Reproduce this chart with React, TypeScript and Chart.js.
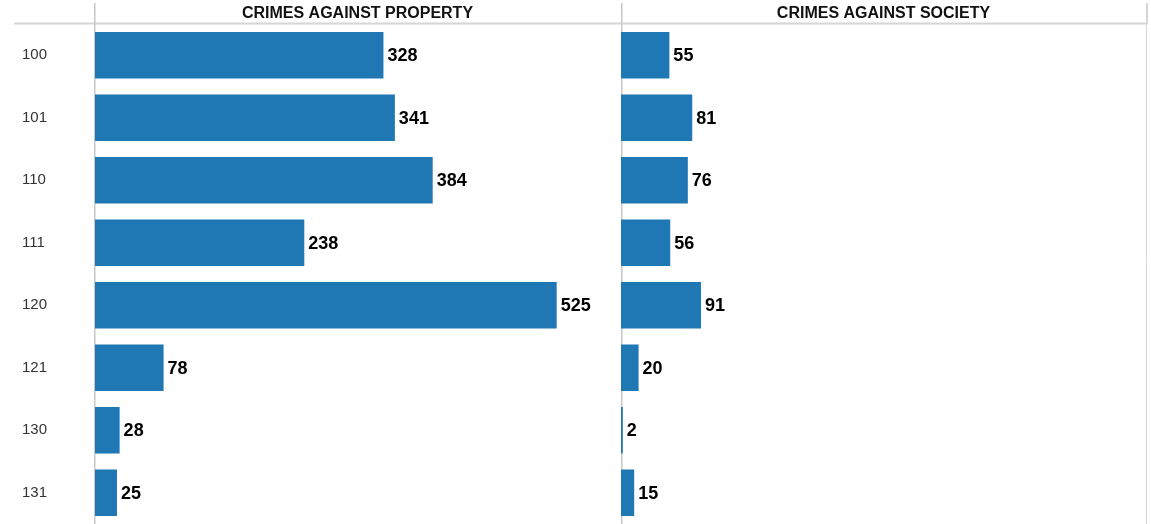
import React, { useEffect, useRef } from "react";
import { Chart, registerables } from "chart.js";

Chart.register(...registerables);

const categories = ["100", "101", "110", "111", "120", "121", "130", "131"];
const propertyValues = [328, 341, 384, 238, 525, 78, 28, 25];
const societyValues = [55, 81, 76, 56, 91, 20, 2, 15];
const panelTitles = ["CRIMES AGAINST PROPERTY", "CRIMES AGAINST SOCIETY"];

const FONT = "'Liberation Sans', Arial, Helvetica, sans-serif";
const BAR_COLOR = "#1f77b4";
const X_MAX = 597;

function makePlugin(title: string, isLeft: boolean) {
  return {
    id: "decor" + (isLeft ? "L" : "R"),
    beforeDatasetsDraw(chart: any) {
      const { ctx, chartArea } = chart;
      const W = chart.width;
      ctx.save();
      // header line
      ctx.strokeStyle = "#d6d6d6";
      ctx.lineWidth = 2;
      ctx.beginPath();
      ctx.moveTo(isLeft ? 14 : 0, 23.5);
      ctx.lineTo(isLeft ? W : chartArea.right + 1, 23.5);
      ctx.stroke();
      // left axis line of panel
      const lx = isLeft ? chartArea.left - 0.25 : 0.75;
      ctx.strokeStyle = "#c8c8c8";
      ctx.lineWidth = 1.5;
      ctx.beginPath();
      ctx.moveTo(lx, 3);
      ctx.lineTo(lx, chart.height);
      ctx.stroke();
      if (!isLeft) {
        ctx.strokeStyle = "#d6d6d6";
        ctx.lineWidth = 1;
        ctx.beginPath();
        ctx.moveTo(chartArea.right + 0.5, 3);
        ctx.lineTo(chartArea.right + 0.5, chart.height);
        ctx.stroke();
        ctx.lineWidth = 2;
        ctx.beginPath();
        ctx.moveTo(chartArea.right + 1, 3);
        ctx.lineTo(chartArea.right + 1, 24);
        ctx.stroke();
      }
      // header title
      ctx.fillStyle = "#111111";
      ctx.font = `bold 16px ${FONT}`;
      ctx.textAlign = "center";
      ctx.textBaseline = "middle";
      ctx.fillText(title, (chartArea.left + chartArea.right) / 2, 13.5);
      ctx.restore();
    },
    afterDatasetsDraw(chart: any) {
      const { ctx } = chart;
      const meta = chart.getDatasetMeta(0);
      const data = chart.data.datasets[0].data as number[];
      ctx.save();
      ctx.fillStyle = "#000000";
      ctx.font = `bold 18px ${FONT}`;
      ctx.textAlign = "left";
      ctx.textBaseline = "middle";
      meta.data.forEach((el: any, i: number) => {
        ctx.fillText(String(data[i]), el.x + 4, el.y + 1);
      });
      ctx.restore();
    },
  };
}

function Panel({ values, title, isLeft, width }: { values: number[]; title: string; isLeft: boolean; width: number }) {
  const ref = useRef<HTMLCanvasElement>(null);
  useEffect(() => {
    if (!ref.current) return;
    const chart = new Chart(ref.current, {
      type: "bar",
      data: {
        labels: categories,
        datasets: [
          {
            data: values,
            backgroundColor: BAR_COLOR,
            borderWidth: 0,
            categoryPercentage: 1,
            barPercentage: 0.744,
          },
        ],
      },
      options: {
        indexAxis: "y",
        responsive: false,
        maintainAspectRatio: false,
        animation: false,
        layout: {
          padding: isLeft
            ? { left: 22, right: 1, top: 24, bottom: 0 }
            : { left: 0, right: width - 525, top: 24, bottom: 0 },
        },
        plugins: {
          legend: { display: false },
          tooltip: { enabled: false },
          title: { display: false },
        },
        scales: {
          x: {
            min: 0,
            max: X_MAX,
            display: false,
            grid: { display: false },
          },
          y: {
            display: isLeft,
            grid: { display: false, drawTicks: false },
            border: { display: false },
            ticks: {
              crossAlign: "far",
              color: "#333333",
              font: { family: FONT, size: 15 },
              padding: 0,
            },
            afterFit: (scale: any) => {
              if (isLeft) scale.width = 73;
              scale.paddingTop = 0;
              scale.paddingBottom = 0;
            },
          },
        },
      },
      plugins: [makePlugin(title, isLeft)],
    });
    return () => chart.destroy();
  }, []);
  return <canvas ref={ref} width={width} height={524} style={{ display: "block", width, height: 524 }} />;
}

export default function App() {
  return (
    <div style={{ position: "absolute", left: 0, top: 0, width: 1151, height: 524, background: "#ffffff" }}>
      <div style={{ position: "absolute", left: 0, top: 0 }}>
        <Panel values={propertyValues} title={panelTitles[0]} isLeft={true} width={621} />
      </div>
      <div style={{ position: "absolute", left: 621, top: 0 }}>
        <Panel values={societyValues} title={panelTitles[1]} isLeft={false} width={530} />
      </div>
    </div>
  );
}
